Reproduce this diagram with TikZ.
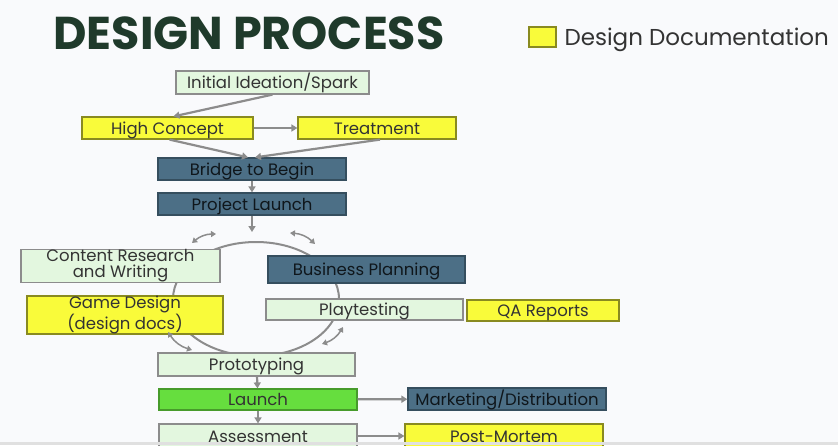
\documentclass[tikz,border=0pt]{standalone}
\usepackage{fontspec}
\setmainfont{Poppins}
\usetikzlibrary{arrows.meta,calc}
\definecolor{bg}{HTML}{F9FAFC}
\definecolor{titlegreen}{HTML}{1F3A2B}
\definecolor{paleg}{HTML}{E3F7DF}
\definecolor{docyel}{HTML}{F9FB3A}
\definecolor{steel}{HTML}{4C6F86}
\definecolor{brightg}{HTML}{66DE3E}
\definecolor{edge}{HTML}{8C8C8C}
\definecolor{label}{HTML}{333333}
\tikzset{
  box/.style={draw=edge, line width=1.2pt, inner sep=0pt, text=label,
    font=\fontsize{16.5}{16}\selectfont, align=center},
  oneline/.style={text height=14pt, text depth=2pt},
  palefill/.style={box, fill=paleg},
  docfill/.style={box, fill=docyel, draw=black!45!docyel},
  pale/.style={palefill, oneline},
  doc/.style={docfill, oneline},
  biz/.style={box, oneline, fill=steel, draw=steel!70!black, text=black!80!steel},
  go/.style={box, oneline, fill=brightg, draw=brightg!70!black},
  flow/.style={draw=edge, line width=2.2pt, -{Triangle[length=6pt,width=7pt]}},
  swing/.style={draw=edge, line width=1.5pt, {Triangle[length=5pt,width=6pt]}-{Triangle[length=5pt,width=6pt]}},
}
\begin{document}
\begin{tikzpicture}[x=1pt,y=-1pt]
\fill[bg] (0,0) rectangle (838,445);
\useasboundingbox (0,0) rectangle (838,445);
\begin{scope}
\clip (0,0) rectangle (838,445);

% heading and legend
\node[anchor=west, text=titlegreen, font=\fontsize{46}{46}\bfseries\selectfont] (title) at (50,33) {DESIGN PROCESS};
\node[docfill, minimum width=27pt, minimum height=20pt] (key) at (542.5,37) {};
\node[anchor=west, text=label, font=\fontsize{23}{23}\selectfont] (keytext) at (561,40) {Design Documentation};

% cycle behind the boxes
\draw[edge, line width=2pt] (256,299) ellipse [x radius=83, y radius=57];

% boxes
\node[pale, minimum width=193pt, minimum height=23pt] (spark) at (272.5,82.5) {Initial Ideation/Spark};
\node[doc, minimum width=171pt, minimum height=22pt] (concept) at (167.5,128) {High Concept};
\node[doc, minimum width=158pt, minimum height=22pt] (treat) at (377,128) {Treatment};
\node[biz, minimum width=188pt, minimum height=22pt] (bridge) at (252,169) {Bridge to Begin};
\node[biz, minimum width=188pt, minimum height=22pt] (plaunch) at (252,204) {Project Launch};
\node[palefill, minimum width=199pt, minimum height=30pt] (content) at (120.5,266) {Content Research\\and Writing};
\node[biz, minimum width=197pt, minimum height=27pt] (business) at (366.5,269.5) {Business Planning};
\node[docfill, minimum width=196pt, minimum height=30pt] (gdesign) at (125,315) {Game Design\\(design docs)};
\node[pale, minimum width=197pt, minimum height=21pt] (play) at (364.5,309.5) {Playtesting};
\node[doc, minimum width=152pt, minimum height=21pt] (qa) at (543,310.5) {QA Reports};
\node[pale, minimum width=197pt, minimum height=23pt] (proto) at (256.5,364.5) {Prototyping};
\node[go, minimum width=198pt, minimum height=21pt] (launch) at (258,399.5) {Launch};
\node[biz, minimum width=198pt, minimum height=22pt] (market) at (507,399) {Marketing/Distribution};
\node[pale, minimum width=198pt, minimum height=24pt] (assess) at (258,436) {Assessment};
\node[doc, minimum width=198pt, minimum height=24pt] (mortem) at (504,436) {Post-Mortem};

% main flow
\draw[flow] (spark.south) -- ([xshift=6pt]concept.north);
\draw[flow] (concept.east) -- (treat.west);
\draw[flow] ([xshift=2pt]concept.south) -- ([xshift=-4pt]bridge.north);
\draw[flow] ([xshift=3pt]treat.south) -- ([xshift=3pt]bridge.north);
\draw[flow] (bridge) -- (plaunch);
\coordinate (cycletop) at (252,232);
\draw[flow] (plaunch.south) -- (cycletop);
\draw[flow] (proto) -- (launch);
\draw[flow] (launch) -- (assess);
\draw[flow] (launch) -- (market);
\draw[flow] (assess) -- (mortem);

% back-and-forth swings around the cycle
\coordinate (tla) at (192,243); \coordinate (tlb) at (216,234);
\coordinate (tra) at (290,233); \coordinate (trb) at (315,244);
\coordinate (bla) at (168,332); \coordinate (blb) at (192,350);
\coordinate (bra) at (322,344); \coordinate (brb) at (343,327);
\draw[swing] (tla) to[bend left=20] (tlb);
\draw[swing] (tra) to[bend left=20] (trb);
\draw[swing] (bla) to[bend right=20] (blb);
\draw[swing] (bra) to[bend right=20] (brb);

% lower edge strip
\fill[black!12] (0,442) rectangle (838,445);
\end{scope}
\end{tikzpicture}
\end{document}
